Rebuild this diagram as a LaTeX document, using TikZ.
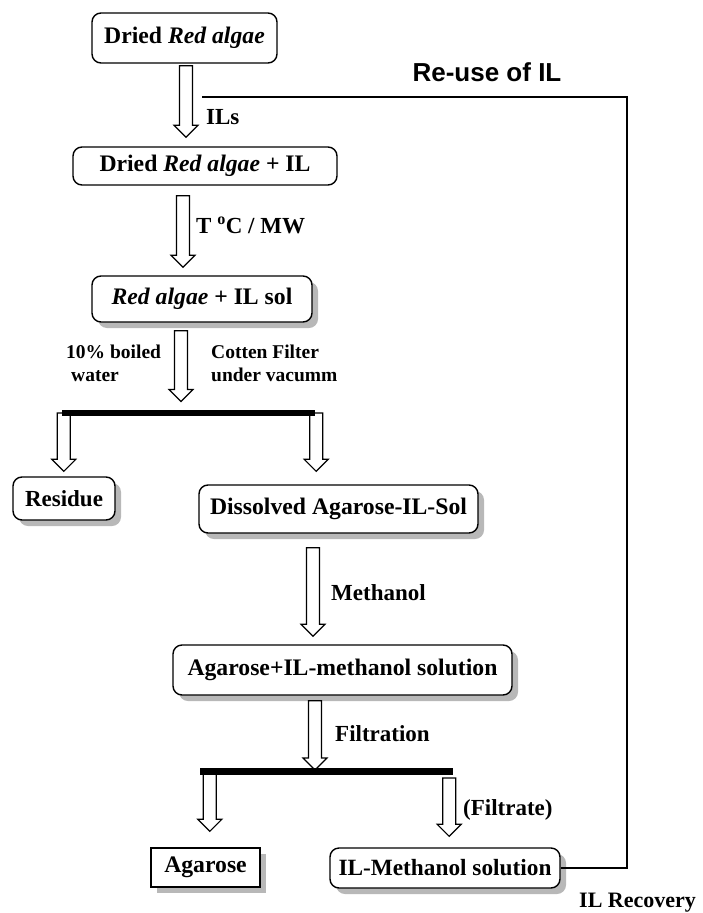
\documentclass[tikz,border=0pt]{standalone}
\usepackage{fontspec}
\setmainfont{Liberation Serif}
\newfontfamily\arialfont{Liberation Sans}
\usetikzlibrary{calc,shadows}
\tikzset{
  box/.style={draw, line width=1.4pt, rounded corners=9pt, fill=white, inner sep=0pt,
    align=center, font=\fontsize{23.7}{26}\selectfont\bfseries},
  shbox/.style={box, drop shadow={shadow xshift=6pt, shadow yshift=-6pt, fill=black!28, opacity=1}},
  sqbox/.style={shbox, rounded corners=0pt},
  lbl/.style={inner sep=0pt, anchor=west, font=\fontsize{23}{26}\selectfont\bfseries},
  slbl/.style={inner sep=0pt, anchor=west, align=left, font=\fontsize{19.5}{23}\selectfont\bfseries},
  blk/.style={draw=black, fill=white, line width=1.2pt, line join=miter},
  barstyle/.style={fill=black, inner sep=0pt, minimum height=6.5pt},
  conn/.style={draw, line width=1.4pt},
}
\newcommand\blockarr[2]{\draw[blk] let \p1=(#1), \p2=(#2) in
  (\x1-6.5pt,\y1) -- (\x1+6.5pt,\y1) -- (\x1+6.5pt,\y2+12pt) -- (\x1+12pt,\y2+12pt)
  -- (\x1,\y2) -- (\x1-12pt,\y2+12pt) -- (\x1-6.5pt,\y2+12pt) -- cycle;}
\begin{document}
\begin{tikzpicture}[x=1pt,y=-1pt]
\useasboundingbox[fill=white] (0,0) rectangle (703,913);

% boxes
\node[box, minimum width=185pt, minimum height=50pt] (b1) at (184.5,38) {Dried \textit{Red algae}};
\node[box, minimum width=264pt, minimum height=38pt] (b2) at (205,166) {Dried \textit{Red algae} + IL};
\node[shbox, minimum width=220pt, minimum height=46pt] (b3) at (202,299) {\textit{Red algae} + IL sol};
\node[shbox, minimum width=102pt, minimum height=43pt, font=\fontsize{23}{26}\selectfont\bfseries] (res) at (64,498.5) {Residue};
\node[shbox, minimum width=279pt, minimum height=48pt] (dis) at (338.5,509) {Dissolved Agarose-IL-Sol};
\node[shbox, minimum width=339pt, minimum height=50pt] (b5) at (342.5,670) {Agarose+IL-methanol solution};
\node[sqbox, minimum width=109pt, minimum height=39pt] (aga) at (205.5,867.5) {Agarose};
\node[shbox, minimum width=230pt, minimum height=40pt, font=\fontsize{23.3}{26}\selectfont\bfseries] (ilm) at (445,868) {IL-Methanol solution};

% bars
\node[barstyle, minimum width=253pt] (bar1) at (188.5,413) {};
\node[barstyle, minimum width=253pt] (bar2) at (326.5,771.5) {};

% block arrows
\blockarr{$(b1.south)+(1.5,2)$}{$(b2.north)+(0,-9)$}
\blockarr{$(b2.south)+(-22,10)$}{$(b3.north)+(0,-8)$}
\blockarr{$(b3.south)+(-21,8)$}{$(bar1.north)+(0,-8)$}
\blockarr{$(bar1.west)+(2,0)$}{$(res.north)+(0,-5)$}
\blockarr{$(bar1.east)+(1,0)$}{$(dis.north)+(0,-13)$}
\blockarr{$(dis.south)+(-25.5,14)$}{$(b5.north)+(0,-8)$}
\blockarr{$(b5.south)+(-27.5,5)$}{$(bar2.north)+(0,2)$}
\blockarr{$(bar2.west)+(10,0)$}{$(aga.north)+(0,-16)$}
\blockarr{$(bar2.east)+(-4,6.5)$}{$(ilm.north)+(0,-11)$}

% redraw bars on top
\node[barstyle, minimum width=253pt] at (bar1) {};
\node[barstyle, minimum width=253pt] at (bar2) {};

% recycle line
\coordinate (rc) at (627,868);
\coordinate (rt) at (627,97);
\coordinate (rend) at (202,97);
\draw[conn] (ilm.east) -- (rc) -- (rt) -- (rend);

% labels
\node[lbl] (lils) at (206,117) {ILs};
\node[lbl] (ltc) at (196,225) {T \textsuperscript{o}C / MW};
\node[slbl] (lbw) at (66,363) {10\% boiled\\\hspace{5pt}water};
\node[slbl] (lcf) at (211,363) {Cotten Filter\\under vacumm};
\node[lbl] (lme) at (331,593) {Methanol};
\node[lbl] (lfi) at (335,734) {Filtration};
\node[lbl] (lft) at (463,810) {(Filtrate)};
\node[lbl, font=\fontsize{22}{26}\selectfont\bfseries] (lrec) at (579,903) {IL Recovery};
\node[inner sep=0pt, font=\arialfont\fontsize{26}{30}\selectfont\bfseries] (lreuse) at (487,72) {Re-use of IL};
\end{tikzpicture}
\end{document}
